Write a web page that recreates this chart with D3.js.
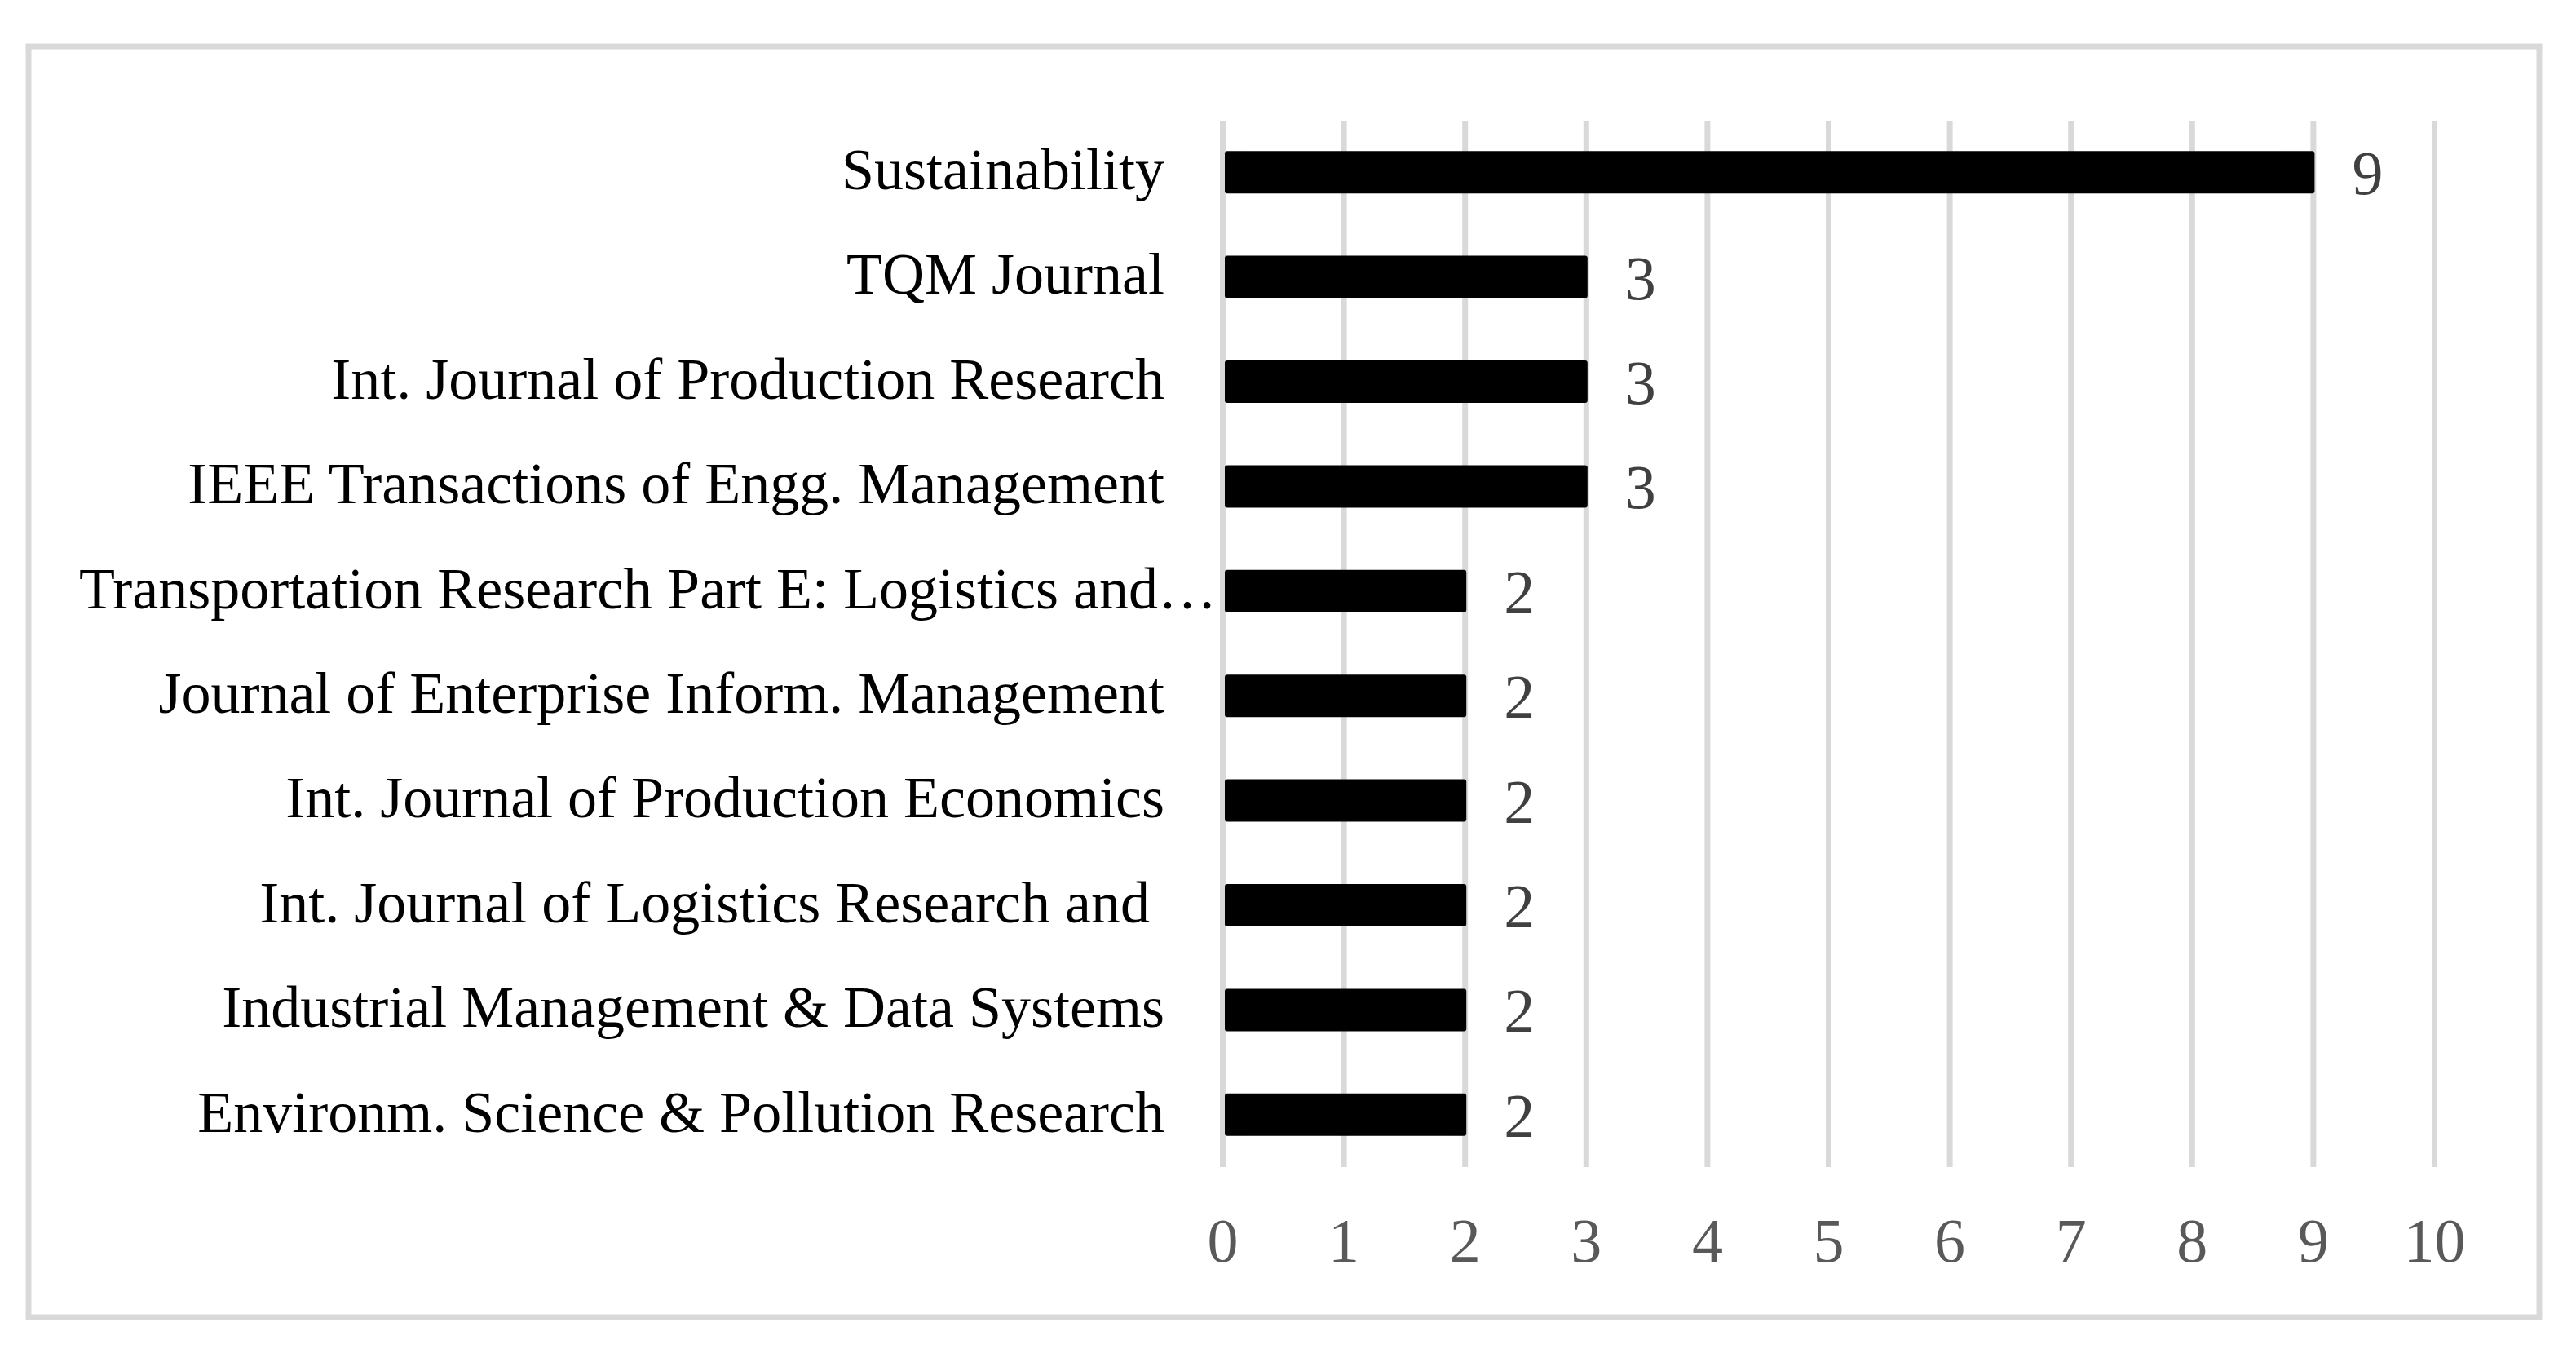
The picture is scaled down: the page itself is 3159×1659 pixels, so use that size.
<!DOCTYPE html>
<html>
<head>
<meta charset="utf-8">
<script src="https://cdn.jsdelivr.net/npm/d3@7"></script>
<style>
  html, body { margin: 0; padding: 0; background: #fff; }
  svg { display: block; }
  text { font-family: "Palatino Linotype", "Book Antiqua", Palatino, "Liberation Serif", "Times New Roman", serif; }
</style>
</head>
<body>
<svg id="chart" width="3159" height="1659"></svg>
<script>
// journals, top to bottom as drawn
const journals = [
    "Sustainability",
    "TQM Journal",
    "Int. Journal of Production Research",
    "IEEE Transactions of Engg. Management",
    "Transportation Research Part E: Logistics and\u2026",
    "Journal of Enterprise Inform. Management",
    "Int. Journal of Production Economics",
    "Int. Journal of Logistics Research and ",
    "Industrial Management & Data Systems",
    "Environm. Science & Pollution Research"
];
const articles = [9, 3, 3, 3, 2, 2, 2, 2, 2, 2];
const xTicks = [0, 1, 2, 3, 4, 5, 6, 7, 8, 9, 10];

const width = 3159, height = 1659;
const plotTop = 148, plotBottom = 1431;

const svg = d3.select('#chart');

svg.append('rect')
    .attr('width', width)
    .attr('height', height)
    .attr('fill', '#fff');

// outer frame
svg.append('rect')
    .attr('x', 35)
    .attr('y', 57)
    .attr('width', 3079)
    .attr('height', 1558)
    .attr('fill', 'none')
    .attr('stroke', '#d9d9d9')
    .attr('stroke-width', 7);

var x = d3.scaleLinear().domain([0, 10]).range([1499, 2985]);
var y = d3.scaleBand().domain(journals).range([plotTop - 1, plotBottom])
    .paddingInner(0.595).paddingOuter(0.2975);

const data = journals.map((j, i) => ({ name: j, value: articles[i] }));

// vertical gridlines + tick labels
const xAxis = svg.append('g')
    .attr('transform', 'translate(0,' + plotBottom + ')')
    .call(d3.axisBottom(x).tickValues(xTicks).tickSize(-(plotBottom - plotTop)).tickFormat(d3.format('d')));

xAxis.select('.domain').remove();
xAxis.selectAll('.tick line')
    .attr('stroke', '#d9d9d9')
    .attr('stroke-width', 7);
xAxis.selectAll('.tick text')
    .attr('y', 116)
    .attr('dy', 0)
    .attr('fill', '#595959')
    .style('font-size', '76px');

// bars
svg.append('g')
    .selectAll('rect')
    .data(data)
    .join('rect')
    .attr('x', x(0) + 3)
    .attr('y', d => y(d.name))
    .attr('width', d => x(d.value) - x(0) - 1)
    .attr('height', y.bandwidth())
    .attr('rx', 3)
    .attr('fill', '#000');

// value labels
svg.append('g')
    .selectAll('text')
    .data(data)
    .join('text')
    .attr('x', d => x(d.value) + 48)
    .attr('y', d => y(d.name) + y.bandwidth() / 2 + 27)
    .attr('fill', '#404040')
    .style('font-size', '76px')
    .text(d => d.value);

// category labels
svg.append('g')
    .selectAll('text')
    .data(data)
    .join('text')
    .attr('x', d => d.name.endsWith('\u2026') ? x(0) - 7 : x(0) - 71)
    .attr('y', d => y(d.name) + y.bandwidth() / 2)
    .attr('dy', '0.29em')
    .attr('text-anchor', 'end')
    .attr('fill', '#000')
    .style('font-size', '72px')
    .style('white-space', 'pre')
    .text(d => d.name);
</script>
</body>
</html>
